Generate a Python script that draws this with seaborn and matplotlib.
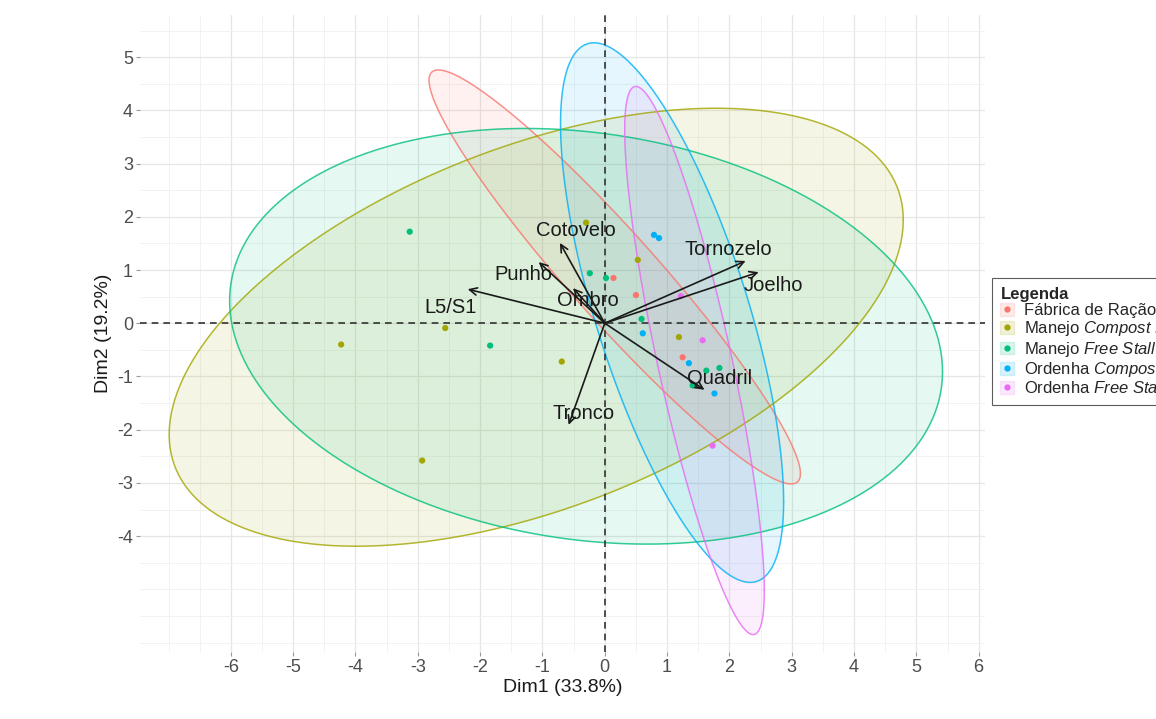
import numpy as np
import pandas as pd
import matplotlib
matplotlib.use("Agg")
import matplotlib.pyplot as plt
import seaborn as sns
from matplotlib.patches import Patch
from matplotlib.lines import Line2D
from matplotlib.legend_handler import HandlerTuple

# ---------------- data ----------------
groups = ["Fábrica de Ração", "Manejo Compost Barn", "Manejo Free Stall",
          "Ordenha Compost Barn", "Ordenha Free Stall"]
legend_labels = ["Fábrica de Ração", r"Manejo $\it{Compost\ Barn}$", r"Manejo $\it{Free\ Stall}$",
                 r"Ordenha $\it{Compost\ Barn}$", r"Ordenha $\it{Free\ Stall}$"]
colors = ["#F8766D", "#A3A500", "#00BF7D", "#00B0F6", "#E76BF3"]

fab_x = [0.14, 0.50, 1.25]
fab_y = [0.85, 0.53, -0.64]
mcb_x = [-0.30, 0.53, -2.56, -4.23, -0.69, -2.93, 1.19]
mcb_y = [1.89, 1.19, -0.09, -0.40, -0.72, -2.58, -0.26]
mfs_x = [-3.13, -1.84, -0.24, 0.02, 0.59, 1.63, 1.84, 1.41]
mfs_y = [1.72, -0.42, 0.94, 0.85, 0.08, -0.89, -0.84, -1.17]
ocb_x = [0.79, 0.87, 0.61, 1.35, 1.76]
ocb_y = [1.66, 1.60, -0.19, -0.75, -1.32]
ofs_x = [1.22, 1.57, 1.73]
ofs_y = [0.51, -0.32, -2.30]

# ellipse parameters per group: center, half x-extent, half y-extent, correlation
ell_cx = [0.16, -1.10, -0.30, 1.08, 1.44]
ell_cy = [0.87, -0.075, -0.245, 0.20, -0.70]
ell_hx = [2.98, 5.89, 5.72, 1.79, 1.12]
ell_hy = [3.89, 4.115, 3.905, 5.07, 5.15]
ell_rho = [-0.95, 0.49, -0.17, -0.70, -0.84]

# variable arrows (PCA loadings, scaled) and label positions
var_names = ["Cotovelo", "Punho", "Ombro", "L5/S1", "Tornozelo", "Joelho", "Quadril", "Tronco"]
var_x = [-0.72, -1.06, -0.51, -2.20, 2.26, 2.47, 1.60, -0.58]
var_y = [1.51, 1.15, 0.66, 0.64, 1.17, 0.96, -1.25, -1.91]
lab_x = [-0.46, -1.30, -0.27, -2.48, 1.99, 2.71, 1.84, -0.34]
lab_y = [1.74, 0.92, 0.43, 0.30, 1.38, 0.70, -1.04, -1.70]

xticks = [-6, -5, -4, -3, -2, -1, 0, 1, 2, 3, 4, 5, 6]
yticks = [-4, -3, -2, -1, 0, 1, 2, 3, 4, 5]

# ---------------- build frame ----------------
xs = [fab_x, mcb_x, mfs_x, ocb_x, ofs_x]
ys = [fab_y, mcb_y, mfs_y, ocb_y, ofs_y]
rows = []
for g, gx, gy in zip(groups, xs, ys):
    for a, b in zip(gx, gy):
        rows.append({"Dim1": a, "Dim2": b, "Grupo": g})
df = pd.DataFrame(rows)

sns.set_theme(style="whitegrid")
plt.rcParams["font.family"] = ["Liberation Sans", "DejaVu Sans"]
plt.rcParams["mathtext.fontset"] = "custom"
plt.rcParams["mathtext.rm"] = "Liberation Sans"
plt.rcParams["mathtext.it"] = "Liberation Sans:italic"
plt.rcParams["axes.unicode_minus"] = False

fig = plt.figure(figsize=(11.56, 7.19), dpi=100)
ax = fig.add_axes([0.121, 0.093, 0.731, 0.886])
ax.set_facecolor("white")

# ellipses
t = np.linspace(0, 2 * np.pi, 400)
for i, c in enumerate(colors):
    phi = np.arccos(ell_rho[i])
    ex = ell_cx[i] + ell_hx[i] * np.cos(t)
    ey = ell_cy[i] + ell_hy[i] * np.cos(t - phi)
    ax.fill(ex, ey, color=c, alpha=0.10, lw=0, zorder=2)
    ax.plot(ex, ey, color=c, lw=1.1, alpha=0.8, zorder=3)

# reference lines
ax.axhline(0, color="#333333", lw=1.2, ls=(0, (4, 3)), zorder=4)
ax.axvline(0, color="#333333", lw=1.2, ls=(0, (4, 3)), zorder=4)

# points
sns.scatterplot(data=df, x="Dim1", y="Dim2", hue="Grupo", hue_order=groups,
                palette=colors, s=20, edgecolor="none", legend=False, ax=ax, zorder=5)

# arrows and labels
for n, vx, vy, lx, ly in zip(var_names, var_x, var_y, lab_x, lab_y):
    ax.annotate("", xy=(vx, vy), xytext=(0, 0),
                arrowprops=dict(arrowstyle="->,head_length=0.45,head_width=0.22",
                                color="#1a1a1a", lw=1.2, shrinkA=0, shrinkB=0),
                zorder=6)
    ax.text(lx, ly, n, fontsize=14.5, color="#1a1a1a", ha="center", va="center", zorder=7)

ax.set_xlim(-7.46, 6.10)
ax.set_ylim(-6.18, 5.79)
ax.set_xticks(xticks)
ax.set_yticks(yticks)
ax.set_xticks(np.arange(-7.0, 6.5, 0.5), minor=True)
ax.set_yticks(np.arange(-6.0, 6.0, 0.5), minor=True)
ax.grid(which="major", color="#E6E6E6", lw=0.9)
ax.grid(which="minor", color="#F0F0F0", lw=0.6)
ax.set_axisbelow(True)
for s in ax.spines.values():
    s.set_visible(False)
ax.tick_params(axis="both", which="major", length=3, width=0.8, color="#999999",
               labelsize=13, labelcolor="#4D4D4D", pad=2, direction="out", bottom=True, left=True)
ax.tick_params(axis="both", which="minor", length=0)
ax.set_xlabel("Dim1 (33.8%)", fontsize=14, color="#1a1a1a", labelpad=2)
ax.set_ylabel("Dim2 (19.2%)", fontsize=14, color="#1a1a1a", labelpad=4)

# legend
handles = []
for c in colors:
    handles.append((Patch(facecolor=c, alpha=0.15, edgecolor=c, lw=1.0),
                    Line2D([], [], marker="o", ls="", color=c, markersize=3.5)))
leg = fig.legend(handles, legend_labels, title="Legenda", loc="center left",
                 bbox_to_anchor=(0.851, 0.525), frameon=True, fontsize=12,
                 title_fontproperties={"weight": "bold", "size": 12},
                 handler_map={tuple: HandlerTuple(ndivide=1, pad=0)},
                 handlelength=0.8, handleheight=0.8, handletextpad=0.6,
                 labelspacing=0.08, borderpad=0.5, fancybox=False)
leg._legend_box.align = "left"
leg.get_frame().set_edgecolor("#333333")
leg.get_frame().set_linewidth(0.8)

fig.savefig("out.png", dpi=100)
